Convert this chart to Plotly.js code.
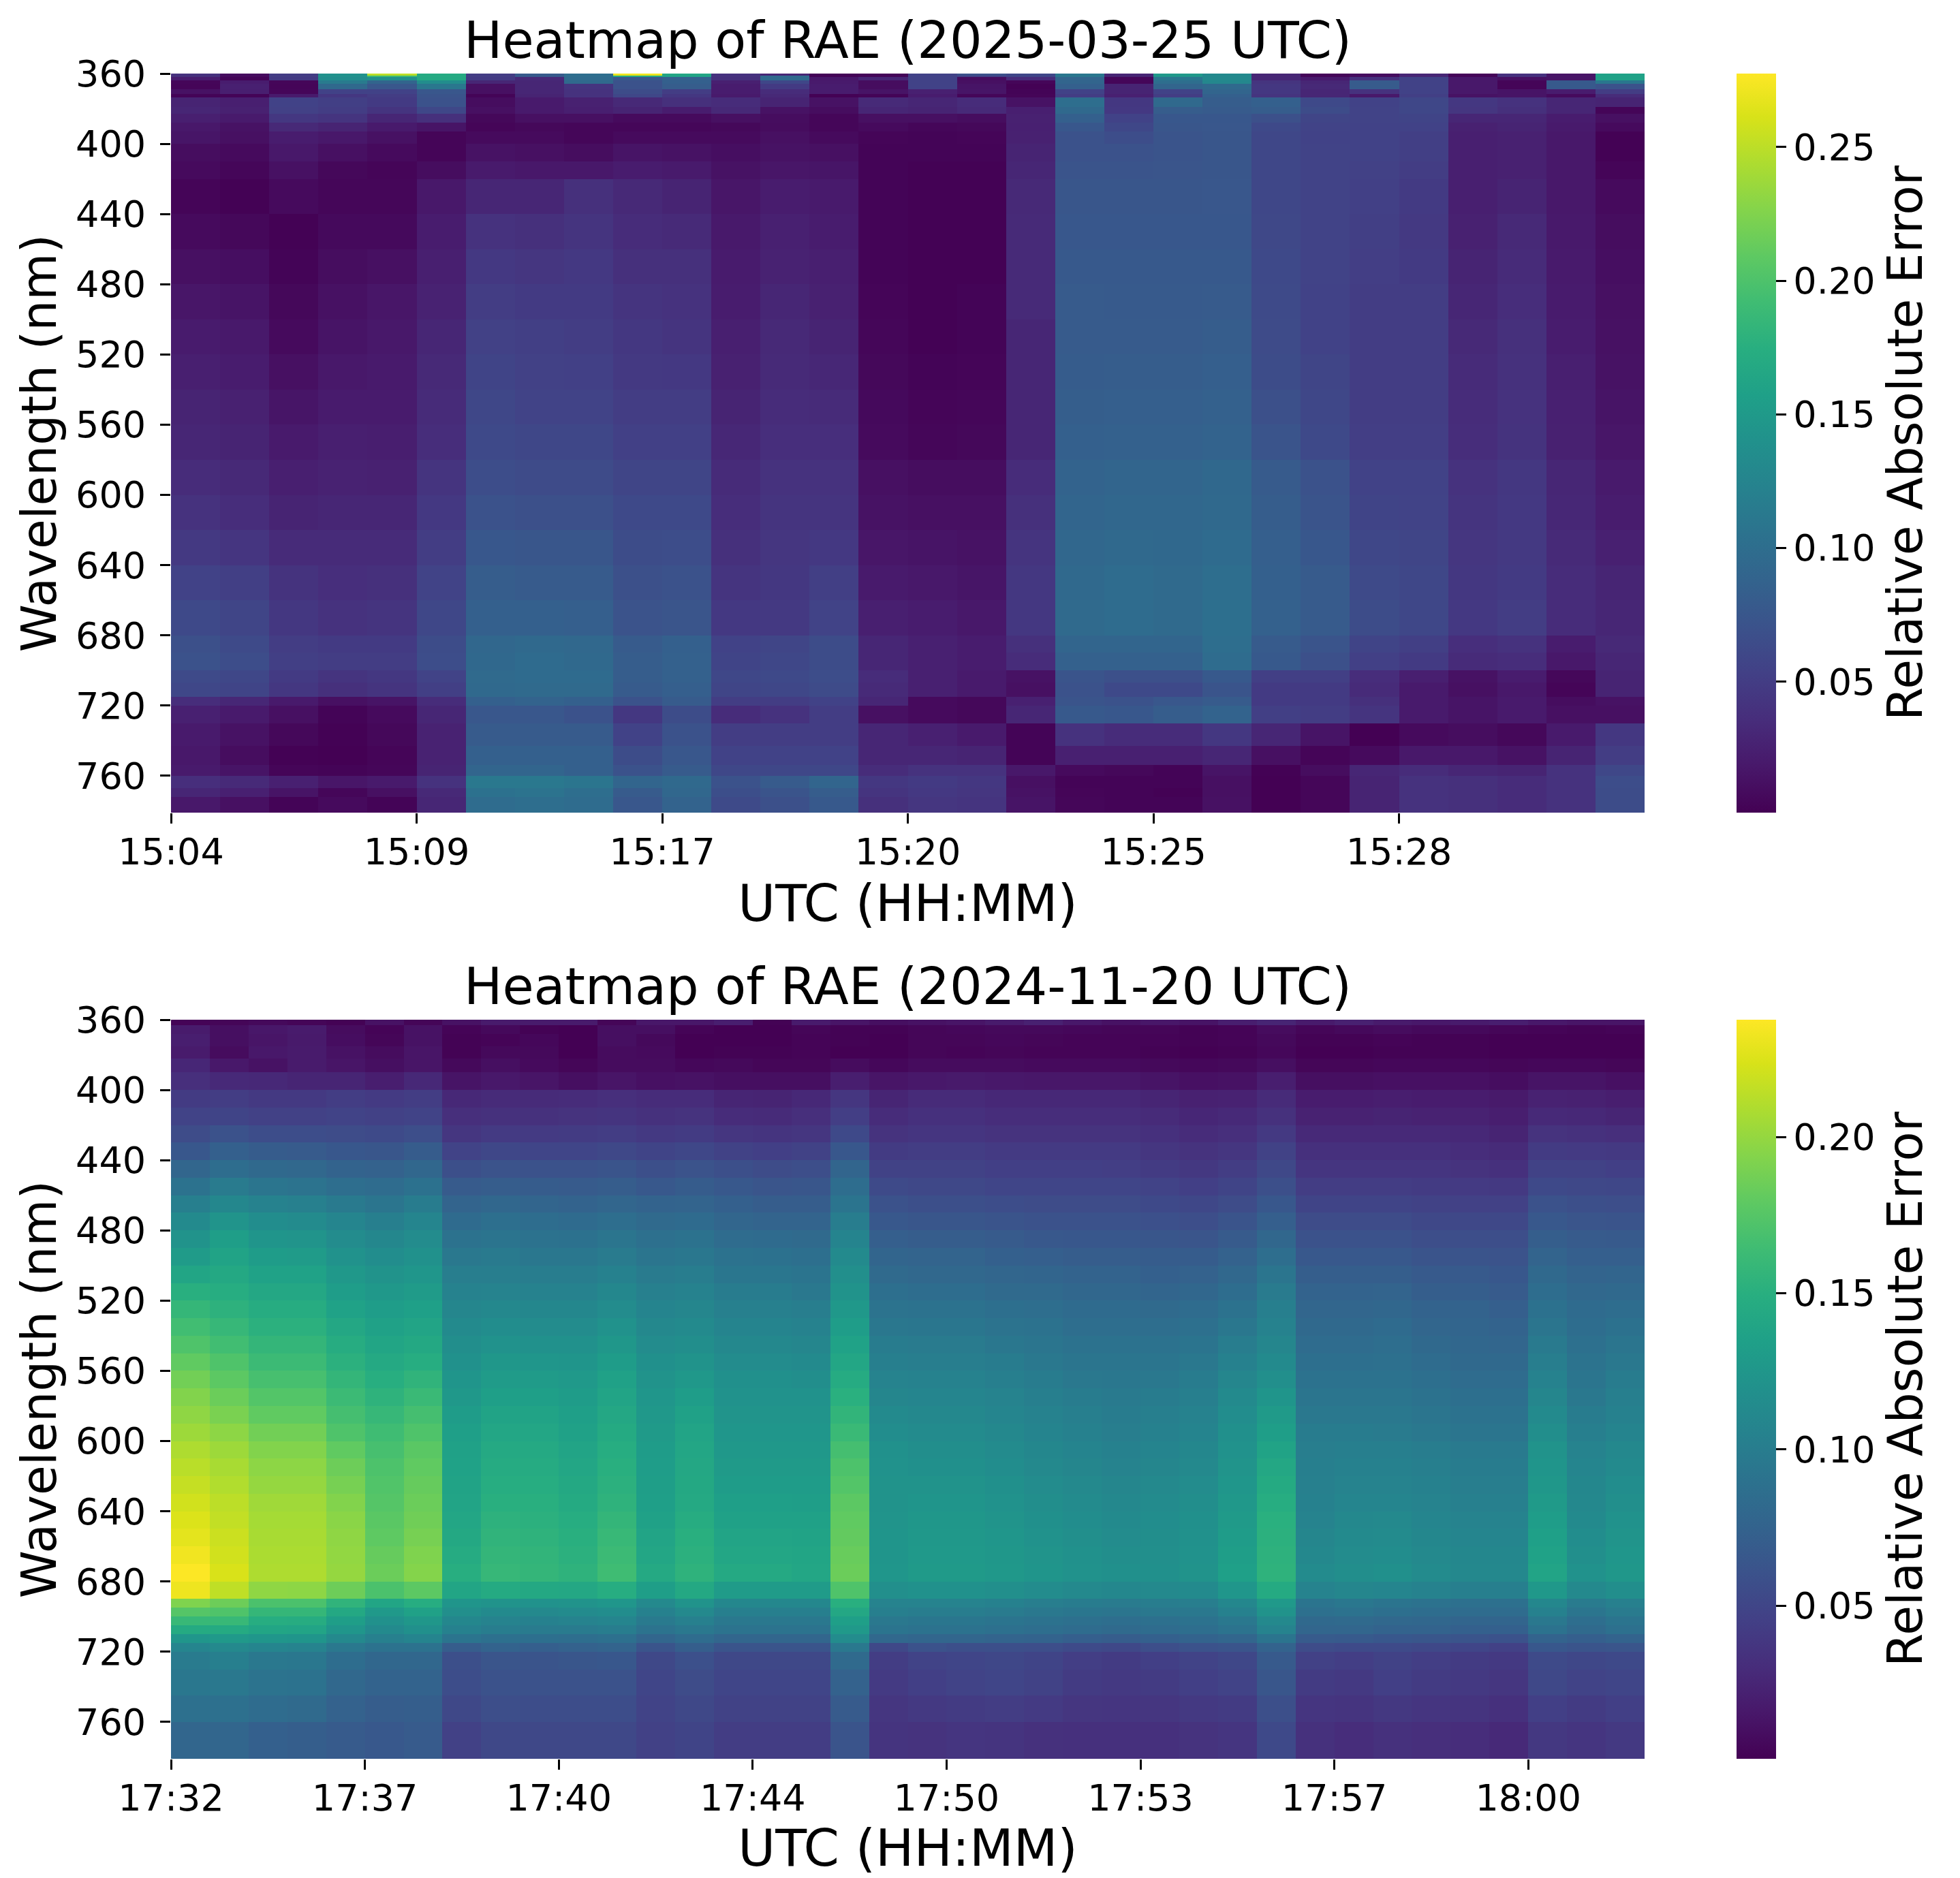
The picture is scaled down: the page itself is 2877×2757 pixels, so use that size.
<!DOCTYPE html>
<html>
<head>
<meta charset="utf-8">
<script src="https://cdn.plot.ly/plotly-3.0.1.min.js"></script>
<style>html,body{margin:0;padding:0;background:#fff}</style>
</head>
<body>
<div id="chart" style="width:2877px;height:2757px"></div>
<script>
// tick labels
const timeLabelsMar = ['15:04', '15:09', '15:17', '15:20', '15:25', '15:28'];
const timeLabelsNov = ['17:32', '17:37', '17:40', '17:44', '17:50', '17:53', '17:57', '18:00'];
const wavelengthTicks = [360, 400, 440, 480, 520, 560, 600, 640, 680, 720, 760];
const colorbarTicksMar = [0.05, 0.10, 0.15, 0.20, 0.25];
const colorbarTicksNov = [0.05, 0.10, 0.15, 0.20];

// row edges in nm, narrower where the picture has thin bands
const edgesMar = [360, 361, 362, 364, 366, 369, 371.5, 373.5, 379, 383, 388, 393, 400, 410, 420, 440, 460, 480, 500, 520, 540, 560, 580, 600, 620, 640, 660, 680, 690, 700, 707, 715, 720, 730, 743, 754, 760, 767, 772, 781];
const edgesNov = [360, 363, 368, 375, 382, 390, 400, 410, 420, 430, 440, 450, 460, 470, 480, 490, 500, 510, 520, 530, 540, 550, 560, 570, 580, 590, 600, 610, 620, 630, 640, 650, 660, 670, 680, 690, 695, 700, 705, 710, 715, 720, 730, 745, 760, 781];

// RAE x 1000, one list per time column
const raeMar = [
  [40,38,22,5,4,14,3,28,30,24,18,16,10,8,4,8,12,17,21,24,28,30,35,40,47,55,62,68,70,63,60,36,25,20,18,20,37,30,18],
  [10,8,3,22,25,24,3,24,26,20,14,12,8,5,2,6,11,15,19,22,26,28,32,36,43,52,58,63,66,60,57,31,20,14,10,15,33,25,12],
  [50,50,48,5,4,5,20,55,54,45,32,22,18,13,8,2,3,6,8,12,16,20,24,28,34,41,45,50,52,48,45,20,12,6,2,4,25,15,3],
  [140,140,135,115,95,55,45,52,50,42,28,18,12,6,5,7,10,13,15,18,21,24,27,30,34,37,40,48,50,42,38,12,3,2,1,3,17,5,8],
  [250,190,140,90,75,55,50,48,42,30,20,13,8,4,5,7,12,17,18,20,21,23,26,30,34,38,42,48,50,45,42,15,8,6,4,5,20,12,3],
  [170,170,168,135,110,75,72,70,60,38,15,4,4,10,18,22,24,27,30,32,34,36,42,46,50,56,60,65,66,56,52,35,30,27,27,28,40,32,30],
  [50,50,48,30,12,12,3,10,12,6,4,8,14,20,30,40,46,50,54,57,60,62,66,70,76,82,85,92,94,96,95,85,75,80,85,90,112,104,98],
  [80,78,32,30,30,30,28,20,20,12,6,8,12,18,30,38,44,48,52,54,56,60,64,68,74,80,85,95,97,97,96,88,75,80,85,90,112,106,100],
  [100,100,98,95,42,40,40,26,24,12,5,5,10,18,38,42,46,48,50,53,56,60,64,68,74,80,84,93,95,97,96,85,70,80,85,85,108,100,98],
  [270,170,75,70,70,65,60,32,28,8,5,8,15,22,32,35,38,42,45,47,50,53,58,62,65,68,71,80,82,82,80,70,45,55,65,70,90,80,75],
  [165,160,85,85,82,50,45,38,22,8,5,8,14,20,28,33,38,40,42,46,50,53,58,62,66,70,73,85,86,86,84,80,65,70,75,80,95,92,88],
  [40,40,38,25,22,22,20,35,32,12,6,8,11,14,17,19,21,22,24,26,28,31,34,36,38,42,46,55,57,60,58,50,35,50,55,60,70,67,63],
  [30,95,95,60,48,35,32,28,14,10,9,12,14,17,22,25,27,30,32,33,35,37,40,42,44,45,47,58,60,62,60,50,40,50,55,60,80,72,68],
  [3,3,18,20,22,22,2,14,10,5,5,8,12,16,20,22,24,26,28,31,34,37,40,42,46,52,56,65,65,66,64,55,50,50,55,60,90,82,78],
  [5,5,30,10,10,15,3,33,30,12,8,4,3,3,3,3,3,4,5,6,7,8,12,14,17,20,24,30,30,35,33,30,12,30,30,35,45,42,38],
  [55,55,55,55,55,25,22,30,28,12,5,3,3,2,2,2,2,2,2,3,4,5,10,12,15,18,22,25,25,25,25,8,8,25,30,40,48,46,44],
  [70,55,10,12,15,16,5,35,33,10,6,4,3,2,2,2,2,3,3,4,5,6,10,12,14,16,18,22,22,20,20,6,6,20,28,40,45,44,42],
  [60,58,35,5,2,3,4,14,24,26,25,26,28,30,32,33,33,33,30,30,30,30,35,38,42,45,45,38,35,14,12,25,30,3,3,18,12,14,15],
  [110,110,90,90,85,55,50,100,95,85,76,70,70,72,74,76,78,80,80,81,83,85,88,90,92,95,96,90,86,72,70,72,78,40,25,8,3,4,5],
  [30,28,5,5,28,28,25,45,46,55,60,66,70,72,74,76,78,79,80,82,84,86,90,92,95,98,98,90,86,68,62,70,76,35,25,6,3,3,3],
  [150,145,110,100,90,55,50,95,82,76,74,72,72,73,74,76,78,79,80,82,84,86,90,92,94,96,96,90,86,68,62,75,82,35,25,3,3,2,3],
  [130,130,130,128,95,90,85,82,80,76,75,74,74,74,75,76,78,80,82,84,86,88,94,95,97,100,102,100,98,78,72,80,88,45,30,15,12,12,13],
  [30,30,30,42,45,45,42,85,82,68,62,60,60,60,60,61,62,63,64,65,68,72,80,82,84,85,86,80,78,52,48,48,52,30,12,2,1,1,1],
  [5,5,20,30,32,30,30,62,65,58,56,55,56,56,56,56,56,55,55,58,60,62,70,72,76,80,80,72,68,52,48,48,50,15,4,10,5,5,5],
  [10,10,40,80,80,40,18,55,56,56,55,55,55,54,53,52,51,50,50,50,50,51,55,57,60,63,65,57,53,36,34,38,42,1,8,30,28,28,28],
  [30,30,56,55,55,55,52,60,60,57,55,52,52,50,48,47,48,50,50,50,50,51,55,56,58,60,60,52,48,24,20,20,20,8,18,35,40,40,40],
  [5,5,18,18,18,18,14,45,44,30,26,24,24,24,24,26,28,30,32,34,35,36,40,42,44,45,46,37,34,14,12,15,15,10,18,30,38,38,38],
  [40,40,12,4,4,15,15,40,38,30,28,26,26,26,28,32,34,36,38,39,40,41,45,46,47,48,50,40,36,22,18,20,20,6,14,28,35,35,35],
  [15,15,15,78,78,22,8,30,30,22,20,18,18,18,18,19,20,21,22,24,25,26,30,31,33,35,35,22,18,6,4,10,12,20,28,40,40,40,40],
  [160,160,160,110,70,50,35,28,4,12,8,2,2,4,8,10,11,12,13,14,15,17,20,22,25,29,30,32,30,28,28,14,12,45,50,60,66,65,65]
];

const raeNov = [
  [3,18,20,18,26,32,42,48,55,65,78,90,102,113,122,130,140,150,158,165,172,180,187,193,198,203,209,213,217,221,225,228,233,237,232,192,175,160,145,125,108,98,95,88,78],
  [4,10,10,8,16,28,43,49,60,73,85,98,110,123,133,138,143,148,153,159,165,172,178,184,190,197,203,207,210,214,216,219,221,224,215,185,172,160,145,128,112,102,96,88,78],
  [6,15,14,16,12,27,40,46,56,69,81,93,105,116,124,131,137,142,147,152,157,162,168,174,180,187,193,197,200,204,206,207,208,209,198,170,158,148,140,125,108,96,91,84,73],
  [4,18,17,18,18,25,40,46,56,68,80,91,103,114,123,130,137,142,147,152,157,162,168,174,180,187,193,197,200,204,206,207,208,209,197,170,158,147,139,124,106,95,90,82,71],
  [2,8,9,12,14,25,43,48,55,65,75,86,97,108,115,121,127,132,137,142,147,152,157,162,167,172,180,185,189,193,196,198,199,200,185,155,143,133,125,112,96,85,80,74,68],
  [12,3,4,8,10,20,41,46,54,64,74,84,93,102,110,116,122,127,132,136,140,144,149,154,159,164,168,171,173,175,177,179,182,184,170,140,128,120,113,103,90,79,75,70,66],
  [4,12,12,14,14,27,43,48,57,69,79,89,99,108,115,120,125,130,135,139,143,148,155,161,167,172,177,180,182,184,186,189,192,194,178,148,136,126,119,107,90,79,75,71,68],
  [12,3,2,2,6,13,27,32,38,48,58,68,76,83,90,96,101,105,109,113,117,120,124,127,131,134,136,137,138,139,141,143,146,149,140,124,118,110,104,92,70,58,56,52,46],
  [18,6,3,6,10,16,29,34,41,51,61,70,79,87,92,97,101,106,111,116,121,126,130,134,138,141,144,146,148,150,153,155,157,159,145,122,113,106,100,88,75,63,60,57,52],
  [18,2,5,6,7,14,29,34,41,50,60,69,77,85,90,95,100,105,110,115,120,125,130,134,138,141,144,146,148,150,152,154,156,157,143,121,112,104,98,87,72,62,60,56,52],
  [18,1,1,1,4,10,30,35,42,50,60,68,75,83,89,95,100,105,110,115,120,124,128,131,134,136,139,141,143,145,148,150,152,154,142,122,114,106,98,86,74,64,60,56,52],
  [4,10,10,8,8,14,32,36,43,52,62,70,78,86,93,98,104,110,115,121,126,131,136,139,142,145,148,150,152,154,157,160,162,164,148,125,116,108,100,88,76,65,60,56,52],
  [15,10,6,7,8,11,30,34,40,49,58,66,75,82,88,93,98,103,107,111,115,119,122,125,127,129,131,132,133,134,136,139,141,144,133,112,104,97,91,78,62,52,50,48,46],
  [15,3,1,1,5,12,30,35,42,51,61,69,76,83,90,95,100,105,109,113,117,122,127,132,136,139,141,142,143,144,147,150,152,154,143,122,112,103,96,84,71,59,55,52,49],
  [20,1,1,2,6,10,25,30,38,47,58,66,73,78,84,90,94,99,103,107,111,115,119,121,123,125,127,129,131,134,136,139,141,144,130,110,102,96,91,78,62,52,50,47,43],
  [2,1,1,2,4,10,24,29,36,45,55,63,70,76,83,89,94,99,103,107,111,115,119,121,123,125,127,129,131,134,136,139,141,144,130,110,102,96,91,78,62,52,50,47,43],
  [18,4,3,3,4,10,27,32,38,47,57,64,70,76,82,87,92,96,101,105,109,113,117,121,123,125,127,129,131,133,136,138,140,141,130,110,102,96,91,78,62,52,50,47,43],
  [14,2,2,1,8,20,38,44,53,65,77,85,92,100,107,113,118,122,127,132,137,141,146,151,156,161,167,171,174,178,180,181,183,184,172,150,142,134,128,115,96,82,74,68,62],
  [10,2,1,1,5,14,25,30,35,42,47,54,60,66,72,77,82,87,91,95,99,102,106,109,113,116,120,121,122,122,123,124,124,125,118,106,102,96,92,80,52,43,41,38,36],
  [12,4,4,4,8,16,29,33,37,43,47,52,58,64,70,76,80,85,90,94,98,101,105,108,111,114,117,119,122,124,126,127,128,129,120,106,100,94,90,78,60,48,45,40,35],
  [14,5,4,3,8,17,29,33,37,43,47,52,58,64,70,76,80,85,90,94,98,101,105,108,111,114,117,119,122,124,126,127,128,129,120,106,100,94,90,78,58,50,48,42,37],
  [18,6,5,4,8,16,27,31,35,41,45,50,56,62,68,73,78,82,87,91,95,99,102,106,108,111,114,116,119,121,123,125,126,127,118,104,98,92,88,76,58,51,50,43,36],
  [22,6,4,3,7,15,27,31,35,41,45,50,55,60,66,72,77,82,86,90,93,96,99,102,105,107,110,112,115,117,119,121,123,124,115,101,96,90,86,75,57,49,47,41,34],
  [16,5,3,3,7,15,27,31,35,41,45,50,55,60,65,70,75,79,83,86,90,93,96,99,102,104,107,109,112,114,116,118,120,121,112,99,94,88,84,72,54,44,42,38,33],
  [12,4,3,3,7,15,27,31,35,41,44,50,55,60,65,70,75,79,83,86,90,93,95,97,99,101,104,106,109,111,113,115,117,119,110,98,93,86,82,70,52,42,40,37,33],
  [15,4,3,2,6,13,25,29,33,38,42,48,53,59,64,69,73,77,82,86,90,93,96,99,102,104,107,109,112,114,116,117,118,119,112,100,96,88,84,73,57,45,42,38,33],
  [13,2,2,1,5,11,22,26,30,35,39,45,51,57,63,69,74,79,84,88,92,96,99,102,105,107,110,112,115,117,119,120,121,122,113,101,96,90,86,75,60,48,45,40,35],
  [20,3,3,2,6,12,23,28,32,38,43,49,55,62,68,74,80,85,90,95,100,104,109,113,116,119,121,123,125,127,129,131,133,135,125,110,104,96,91,78,62,51,48,42,37],
  [25,8,6,5,10,20,29,34,40,47,52,58,65,72,79,86,93,98,102,105,109,113,118,124,129,133,138,142,145,148,151,152,153,154,145,128,122,112,106,92,75,67,64,58,53],
  [18,4,2,1,4,10,19,23,28,33,37,43,49,55,60,66,71,75,78,81,84,87,90,93,96,99,101,102,103,104,106,109,111,114,106,92,88,81,78,68,55,46,42,37,34],
  [22,6,2,1,4,10,19,23,28,33,37,43,49,55,60,66,71,75,78,81,84,87,90,93,96,99,102,104,106,108,111,113,115,117,109,95,90,82,78,67,54,44,40,36,31],
  [18,8,3,2,5,11,20,24,28,33,37,43,49,55,60,66,71,76,79,83,86,88,90,93,96,98,102,104,106,108,112,114,116,119,108,92,87,80,75,65,54,47,45,39,34],
  [16,6,2,2,5,11,19,23,28,33,37,42,47,52,57,62,67,71,75,78,81,84,87,90,93,96,100,102,104,106,108,110,112,114,105,90,85,79,75,64,52,44,42,37,32],
  [18,6,2,2,5,11,19,23,27,31,35,41,46,52,57,62,67,71,75,77,79,81,84,87,90,93,97,99,101,103,106,108,110,111,102,88,84,77,73,62,50,42,40,36,31],
  [20,4,1,1,4,9,17,20,24,29,33,40,46,52,57,61,65,68,72,75,78,81,84,87,90,93,97,99,101,103,106,108,110,111,102,88,84,77,73,60,46,40,38,33,28],
  [16,3,1,1,5,13,23,28,35,42,47,53,60,66,71,76,81,85,89,93,97,101,105,109,113,117,122,124,126,129,132,135,137,139,127,110,104,96,90,75,65,54,52,45,39],
  [14,2,1,1,5,13,22,27,34,41,47,52,58,63,68,72,76,80,83,85,88,91,93,96,99,102,106,108,110,111,113,116,118,121,112,98,93,86,82,72,62,51,48,42,37],
  [14,3,1,1,4,11,20,25,32,40,45,51,57,62,67,72,77,81,85,89,93,96,99,102,104,107,111,113,116,118,121,123,125,126,117,103,98,92,88,75,63,53,50,45,40]
];

const FONT = 'DejaVu Sans, sans-serif';
const W = 2877, H = 2757;
const LEFT = 251, RIGHT = 2414;
const BOX_H = 1085, TOP_MAR = 108, TOP_NOV = 1497;

function paperY(px) { return 1 - px / H; }

function toRows(cols) {
  return cols[0].map((_, r) => cols.map(c => c[r] / 1000));
}

function heatTrace(cols, edges, zmin, zmax, xa, ya, top, ticks) {
  return {
    type: 'heatmap',
    z: toRows(cols),
    x: cols.concat([[]]).map((_, i) => i),
    y: edges,
    xaxis: xa,
    yaxis: ya,
    zmin: zmin,
    zmax: zmax,
    colorscale: 'Viridis',
    colorbar: {
      x: 2549 / W, xanchor: 'left', xpad: 0,
      y: paperY(top + BOX_H / 2), yanchor: 'middle', ypad: 0,
      len: BOX_H / H, lenmode: 'fraction',
      thickness: 58, thicknessmode: 'pixels',
      outlinewidth: 0,
      ticks: 'outside', ticklen: 15, tickwidth: 3.3, tickcolor: '#000',
      tickvals: ticks, tickformat: '.2f',
      tickprefix: '\u200a', ticksuffix: '\u2009\u2009',
      tickfont: { family: FONT, size: 54, color: '#000' },
      title: { text: 'Relative Absolute Error', side: 'right', font: { family: FONT, size: 71, color: '#000' } }
    }
  };
}

function xAxis(anchor, labels, nCols) {
  return {
    domain: [LEFT / W, RIGHT / W],
    anchor: anchor,
    range: [0, nCols],
    tickmode: 'array',
    tickvals: labels.map((_, i) => i * 5),
    ticktext: labels,
    ticks: 'outside', ticklen: 15, tickwidth: 3.3, tickcolor: '#000',
    ticklabelstandoff: -5,
    tickfont: { family: FONT, size: 54, color: '#000' },
    showgrid: false, zeroline: false, showline: false,
    title: { text: 'UTC (HH:MM)', standoff: 0, font: { family: FONT, size: 75, color: '#000' } }
  };
}

function yAxis(anchor, top) {
  return {
    domain: [paperY(top + BOX_H), paperY(top)],
    anchor: anchor,
    range: [781, 360],
    tickmode: 'array',
    tickvals: wavelengthTicks,
    ticktext: wavelengthTicks.map(String),
    ticks: 'outside', ticklen: 15, tickwidth: 3.3, tickcolor: '#000',
    ticklabelstandoff: 10,
    tickfont: { family: FONT, size: 54, color: '#000' },
    showgrid: false, zeroline: false, showline: false,
    title: { text: 'Wavelength (nm)', standoff: 5, font: { family: FONT, size: 71, color: '#000' } }
  };
}

function titleNote(text, top) {
  return {
    text: text,
    xref: 'paper', yref: 'paper',
    x: (LEFT + RIGHT) / 2 / W, y: paperY(top),
    xanchor: 'center', yanchor: 'bottom',
    yshift: 3,
    showarrow: false,
    font: { family: FONT, size: 75, color: '#000' }
  };
}

const layout = {
  width: W, height: H,
  margin: { l: 0, r: 0, t: 0, b: 0 },
  paper_bgcolor: '#fff', plot_bgcolor: '#fff',
  font: { family: FONT, color: '#000' },
  xaxis: xAxis('y', timeLabelsMar, raeMar.length),
  yaxis: yAxis('x', TOP_MAR),
  xaxis2: xAxis('y2', timeLabelsNov, raeNov.length),
  yaxis2: yAxis('x2', TOP_NOV),
  annotations: [
    titleNote('Heatmap of RAE (2025-03-25 UTC)', TOP_MAR),
    titleNote('Heatmap of RAE (2024-11-20 UTC)', TOP_NOV)
  ]
};

Plotly.newPlot('chart', [
  heatTrace(raeMar, edgesMar, 0.001, 0.2775, 'x', 'y', TOP_MAR, colorbarTicksMar),
  heatTrace(raeNov, edgesNov, 0.001, 0.2375, 'x2', 'y2', TOP_NOV, colorbarTicksNov)
], layout, { displayModeBar: false });
</script>
</body>
</html>
